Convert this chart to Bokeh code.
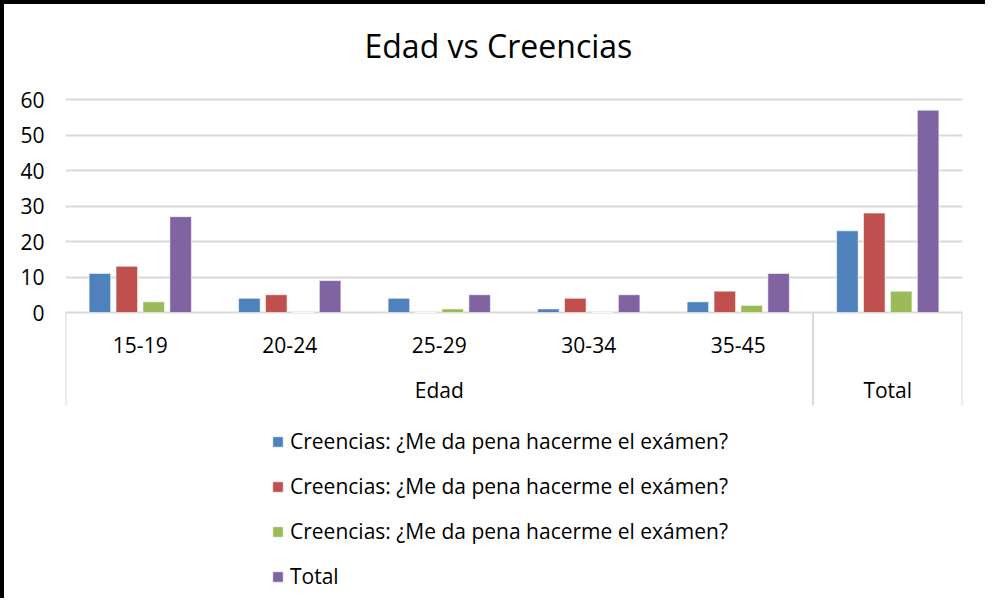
import numpy as np
from bokeh.plotting import figure
from bokeh.layouts import column, row
from bokeh.models import (FactorRange, Range1d, ColumnDataSource, Legend, LegendItem,
                          FixedTicker, Title, Div)
from bokeh.transform import dodge
from bokeh.core.properties import value
from bokeh.embed import file_html
from bokeh.resources import INLINE

# ---------------- data ----------------
groups = ["15-19", "20-24", "25-29", "30-34", "35-45", "Total"]
creencias_a = [11, 4, 4, 1, 3, 23]
creencias_b = [13, 5, 0, 4, 6, 28]
creencias_c = [3, 0, 1, 0, 2, 6]
total = [27, 9, 5, 5, 11, 57]
series_names = ["Creencias: ¿Me da pena hacerme el exámen?",
                "Creencias: ¿Me da pena hacerme el exámen?",
                "Creencias: ¿Me da pena hacerme el exámen?",
                "Total"]
colors = ["#4F81BD", "#C0504D", "#9BBB59", "#8064A2"]
y_ticks = [0, 10, 20, 30, 40, 50, 60]
level1_labels = ["15-19", "20-24", "25-29", "30-34", "35-45", ""]
level2_labels = ["Edad", "Total"]
level2_at = ["25-29", "Total"]

FONT = "Open Sans"

# ---------------- layout (pixels) ----------------
W, H = 973, 594
frame_top_px = 73          # canvas px
zero_px = 320 - 12         # canvas px of value 0
sixty_px = 107 - 12        # canvas px of value 60
ppu = (zero_px - sixty_px) / 60.0
y_end = (zero_px - frame_top_px) / ppu
y_start = -(H - zero_px) / ppu

p = figure(width=W, height=H, output_backend="svg", toolbar_location=None,
           x_range=FactorRange(factors=groups, range_padding=0, factor_padding=0),
           y_range=Range1d(y_start, y_end),
           x_axis_location=None,
           min_border_left=61, min_border_right=15, min_border_top=frame_top_px,
           min_border_bottom=0)
p.outline_line_color = None
p.background_fill_color = "white"
p.border_fill_color = "white"

p.title = Title(text="Edad vs Creencias", align="left", offset=299,
                text_font=FONT, text_font_size="32px", text_font_style="normal",
                text_color="black", vertical_align="middle", standoff=20)

# y axis
p.yaxis.ticker = FixedTicker(ticks=y_ticks)
p.yaxis.axis_line_color = None
p.yaxis.major_tick_line_color = None
p.yaxis.minor_tick_line_color = None
p.yaxis.major_tick_out = 0
p.yaxis.major_tick_in = 0
p.yaxis.major_label_standoff = 21
p.yaxis.major_label_text_font = FONT
p.yaxis.major_label_text_font_size = "21px"
p.yaxis.major_label_text_color = "black"

p.ygrid.ticker = FixedTicker(ticks=y_ticks)
p.ygrid.grid_line_color = "#d9d9d9"
p.ygrid.grid_line_width = 2
p.xgrid.visible = False

# bars
src = ColumnDataSource(dict(groups=groups, a=creencias_a, b=creencias_b,
                            c=creencias_c, t=total))
offsets = [-0.27, -0.09, 0.09, 0.27]
fields = ["a", "b", "c", "t"]
renderers = []
for f, off, col in zip(fields, offsets, colors):
    r = p.vbar(x=dodge("groups", off, range=p.x_range), top=f, width=0.144,
               source=src, fill_color=col, line_color="white", line_alpha=0.55,
               line_width=1)
    renderers.append(r)

# category axis separators
p.segment(x0=[0, 5, 6], x1=[0, 5, 6], y0=[0, 0, 0],
          y1=[-(413 - 320) / ppu] * 3, line_color="#d9d9d9", line_width=2)

# category labels (level 1 and level 2)
lab1 = ColumnDataSource(dict(x=groups, y=[-(352 - 320) / ppu] * 6, text=level1_labels))
p.text(x="x", y="y", text="text", source=lab1, text_font=value(FONT),
       text_font_size="21px", text_align="center", text_baseline="middle",
       text_color="black")
lab2 = ColumnDataSource(dict(x=level2_at, y=[-(397 - 320) / ppu] * 2, text=level2_labels))
p.text(x="x", y="y", text="text", source=lab2, text_font=value(FONT),
       text_font_size="21px", text_align="center", text_baseline="middle",
       text_color="black")

legend = Legend(items=[LegendItem(label=n, renderers=[r]) for n, r in zip(series_names, renderers)],
                location=(206, 8), orientation="vertical",
                glyph_width=13, glyph_height=13, label_standoff=6,
                label_text_font=FONT, label_text_font_size="21px",
                label_text_color="black", label_height=22, spacing=17,
                padding=0, margin=0, border_line_color=None,
                background_fill_alpha=0)
p.add_layout(legend, "center")

# thick black chart-frame edges (top and left), as in the source screenshot
top_bar = Div(text="", width=985, height=4, margin=0,
              styles={"background-color": "black"})
left_bar = Div(text="", width=4, height=H, margin=0,
               styles={"background-color": "black"})
layout = column(top_bar, row(left_bar, p, spacing=0), spacing=0)

open("out.html", "w").write(file_html(layout, INLINE))
